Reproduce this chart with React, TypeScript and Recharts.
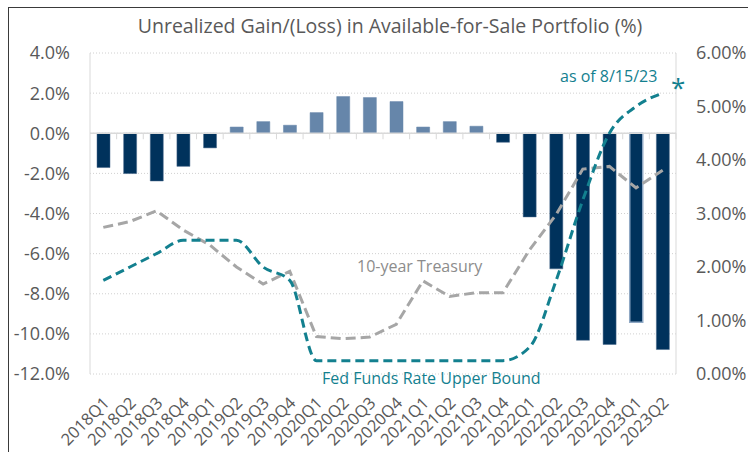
import { ComposedChart, Bar, Line, XAxis, YAxis, CartesianGrid, ReferenceLine, Cell } from 'recharts';

const quarters = [
  '2018Q1', '2018Q2', '2018Q3', '2018Q4',
  '2019Q1', '2019Q2', '2019Q3', '2019Q4',
  '2020Q1', '2020Q2', '2020Q3', '2020Q4',
  '2021Q1', '2021Q2', '2021Q3', '2021Q4',
  '2022Q1', '2022Q2', '2022Q3', '2022Q4',
  '2023Q1', '2023Q2',
];

// unrealized gain/(loss) in AFS portfolio, % (left axis)
const afsGainLoss = [
  -1.71, -2.01, -2.38, -1.65,
  -0.73, 0.31, 0.58, 0.4,
  1.03, 1.83, 1.78, 1.58,
  0.31, 0.58, 0.35, -0.45,
  -4.17, -6.76, -10.32, -10.53,
  -9.42, -10.78,
];

// fed funds upper bound, % (right axis)
const fedFunds = [
  1.75, 2.0, 2.25, 2.5,
  2.5, 2.5, 2.0, 1.75,
  0.25, 0.25, 0.25, 0.25,
  0.25, 0.25, 0.25, 0.25,
  0.5, 1.75, 3.25, 4.5,
  5.0, 5.25,
];

// 10-year treasury, % (right axis)
const treasury10y = [
  2.74, 2.85, 3.05, 2.69,
  2.41, 2.0, 1.68, 1.92,
  0.7, 0.66, 0.69, 0.93,
  1.74, 1.45, 1.52, 1.52,
  2.32, 2.98, 3.83, 3.88,
  3.48, 3.81,
];

const leftTicks = [-12, -10, -8, -6, -4, -2, 0, 2, 4];
const rightTicks = [0, 1, 2, 3, 4, 5, 6];

const data = quarters.map((q, i) => ({
  quarter: q,
  afs: afsGainLoss[i],
  fed: fedFunds[i],
  tsy: treasury10y[i],
}));

const FONT = '"Open Sans", "Noto Sans", sans-serif';
const TEXT = '#595959';
const NAVY = '#00325c';
const STEEL = '#6686aa';
const TEAL = '#13808f';
const GREY = '#a6a6a6';

const QuarterTick = ({ x, y, payload }: any) => (
  <g transform={`translate(${x + 7},${y + 28})`}>
    <text x={0} y={0} textAnchor="end" transform="rotate(-45)" fill={TEXT} fontSize={16.5} fontFamily={FONT}>
      {payload.value}
    </text>
  </g>
);

// zero axis with small tick marks at the category boundaries
const ZeroAxis = (props: any) => {
  const { x1, x2, y1 } = props;
  const step = (x2 - x1) / quarters.length;
  return (
    <g>
      <line x1={x1} x2={x2} y1={y1} y2={y1} stroke="#d9d9d9" strokeWidth={1.5} />
      {quarters.map((q, i) => (
        <line key={q} x1={x1 + step * (i + 1)} x2={x1 + step * (i + 1)} y1={y1} y2={y1 + 6} stroke="#d9d9d9" strokeWidth={1} />
      ))}
    </g>
  );
};

const label = (style: any) => ({ position: 'absolute' as const, fontFamily: FONT, whiteSpace: 'nowrap' as const, lineHeight: 1, zIndex: 2, ...style });

export default function App() {
  return (
    <div style={{ position: 'absolute', left: 0, top: 0, width: 748, height: 452, overflow: 'hidden', background: '#fff' }}>
      <div style={{ position: 'absolute', left: 8, top: 7, width: 740, height: 1, background: '#3a3a3a', zIndex: 10 }} />
      <div style={{ position: 'absolute', left: 8, top: 7, width: 1, height: 445, background: '#3a3a3a', zIndex: 10 }} />
      <div style={label({ left: 9, width: 762, top: 16, textAlign: 'center', fontSize: 19.5, color: TEXT })}>
        Unrealized Gain/(Loss) in Available-for-Sale Portfolio (%)
      </div>
      <div style={{ position: 'absolute', left: 9, top: 8 }}>
        <ComposedChart width={739} height={444} data={data} margin={{ top: 45, right: 0, bottom: 0, left: 0 }} barCategoryGap="50%">
          <CartesianGrid yAxisId="left" vertical={false} stroke="#d0d0d0" strokeDasharray="1 2" />
          <XAxis
            dataKey="quarter"
            height={78}
            axisLine={false}
            tickLine={false}
            tickSize={0}
            interval={0}
            tick={<QuarterTick />}
          />
          <YAxis
            yAxisId="left"
            width={81}
            domain={[-12, 4]}
            ticks={leftTicks}
            tickFormatter={(v: number) => `${v.toFixed(1)}%`}
            axisLine={{ stroke: '#d9d9d9' }}
            tickLine={false}
            tickSize={0}
            tickMargin={20}
            tick={{ fill: TEXT, fontSize: 18, fontFamily: FONT }}
          />
          <YAxis
            yAxisId="right"
            orientation="right"
            width={72}
            domain={[0, 6]}
            ticks={rightTicks}
            tickFormatter={(v: number) => `${v.toFixed(2)}%`}
            axisLine={{ stroke: '#d9d9d9' }}
            tickLine={false}
            tickSize={0}
            tickMargin={20}
            tick={{ fill: TEXT, fontSize: 18, fontFamily: FONT }}
          />
          <ReferenceLine yAxisId="left" y={0} shape={<ZeroAxis />} />
          <Bar yAxisId="left" dataKey="afs" barSize={13} isAnimationActive={false}>
            {data.map((d) => (
              <Cell
                key={d.quarter}
                fill={d.afs >= 0 ? STEEL : NAVY}
                stroke={d.quarter === '2023Q1' ? '#8fa8c4' : d.afs >= 0 ? STEEL : '#4a6a8c'}
                strokeWidth={d.quarter === '2023Q1' ? 1.5 : 0.5}
              />
            ))}
          </Bar>
          <Line yAxisId="right" type="linear" dataKey="tsy" stroke={GREY} strokeWidth={3} strokeDasharray="10 5" dot={false} isAnimationActive={false} />
          <Line yAxisId="right" type="monotone" dataKey="fed" stroke={TEAL} strokeWidth={3} strokeDasharray="9 5" dot={false} isAnimationActive={false} />
        </ComposedChart>
      </div>
      <div style={label({ left: 357, top: 258, fontSize: 16, color: '#8c8c8c' })}>10-year Treasury</div>
      <div style={label({ left: 322, top: 370, fontSize: 16, color: TEAL })}>Fed Funds Rate Upper Bound</div>
      <div style={label({ left: 560, top: 68, fontSize: 16, color: TEAL })}>as of 8/15/23</div>
      <div style={label({ left: 671, top: 74, fontSize: 26, color: TEAL })}>*</div>
    </div>
  );
}
